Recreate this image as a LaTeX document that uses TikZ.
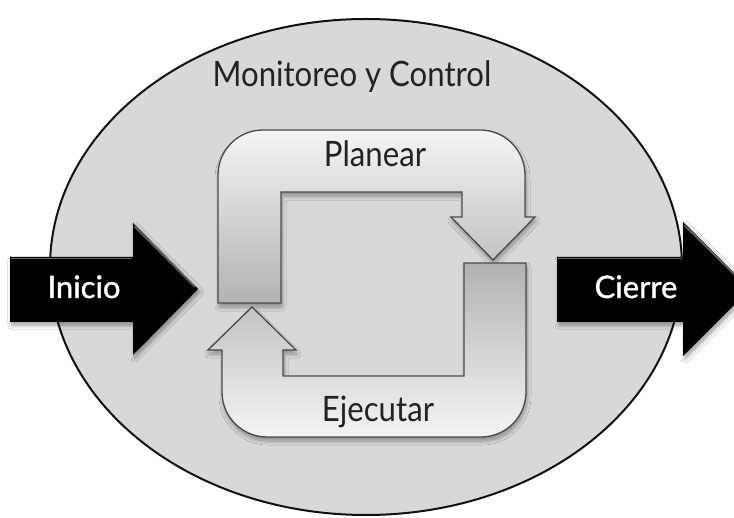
\documentclass[tikz,border=0pt]{standalone}
\usepackage{fontspec}
\setmainfont{Lato}
\newfontfamily\steptextfont[FakeStretch=0.89]{Lato}
\newfontfamily\phasetextfont[FakeBold=1.2]{Lato}
\usetikzlibrary{shadows.blur}

\definecolor{ringfill}{HTML}{D8D8D8}
\definecolor{ringline}{HTML}{111111}
\definecolor{loopline}{HTML}{4A4A4A}
\definecolor{looplight}{HTML}{F4F4F4}
\definecolor{loopdark}{HTML}{B2B2B2}
\definecolor{labeltext}{HTML}{222222}

\tikzset{
  ring/.style={draw=ringline, line width=2pt, fill=ringfill},
  loopshape/.style={draw=loopline, line width=1.3pt, line join=miter,
    blur shadow={shadow xshift=1pt, shadow yshift=-4pt, shadow blur steps=8,
      shadow blur radius=4pt, shadow opacity=35}},
  planshape/.style={loopshape, top color=looplight, bottom color=loopdark},
  execshape/.style={loopshape, top color=loopdark, bottom color=looplight},
  blockarrow/.style={fill=black,
    blur shadow={shadow xshift=2pt, shadow yshift=-3pt, shadow blur steps=8,
      shadow blur radius=4pt, shadow opacity=40}},
  gloss/.style={draw=white!40!black, line width=1.6pt, line cap=butt},
  steplabel/.style={anchor=base, inner sep=0pt, text=labeltext,
    font=\steptextfont\fontsize{35}{40}\selectfont},
  phaselabel/.style={anchor=base, inner sep=0pt, text=white,
    font=\phasetextfont\fontsize{31}{36}\selectfont},
}

\begin{document}
\begin{tikzpicture}[x=1pt, y=-1pt]
  \useasboundingbox (0,0) rectangle (734,518);
  \clip (0,0) rectangle (734,518);
  \fill[white] (0,0) rectangle (734,518);

  % outer process group
  \draw[ring] (366,267) ellipse [x radius=316, y radius=248];
  \node[steplabel] (monitor) at (352,87) {Monitoreo y Control};

  % planning loop arrow (top, bending down to the right)
  \path[planshape]
    (218,303) -- (218,175)
    .. controls (218,150.15) and (238.15,130) .. (263,130)
    -- (480,130)
    .. controls (504.85,130) and (525,150.15) .. (525,175)
    -- (525,217) -- (535,217) -- (493,260) -- (451,217) -- (462,217)
    -- (462,192) -- (281,192) -- (281,303) -- cycle;
  \node[steplabel] (plan) at (375,167) {Planear};

  % execution loop arrow (bottom, bending up to the left)
  \path[execshape]
    (464,263) -- (526,263) -- (526,392)
    .. controls (526,416.85) and (505.85,437) .. (481,437)
    -- (267,437)
    .. controls (242.15,437) and (222,416.85) .. (222,392)
    -- (222,350) -- (208,350) -- (252,307) -- (296,350) -- (283,350)
    -- (283,376) -- (464,376) -- cycle;
  \node[steplabel] (exec) at (378,422) {Ejecutar};

  % entry arrow
  \path[blockarrow]
    (10,257) -- (133,257) -- (133,223) -- (198,289) -- (133,355)
    -- (133,322) -- (10,322) -- cycle;
  \draw[gloss] (11,258.5) -- (132,258.5);
  \draw[gloss] (134.5,226.5) -- (195,287);
  \node[phaselabel] (start) at (84,298) {Inicio};

  % exit arrow
  \path[blockarrow]
    (557,257) -- (683,257) -- (683,222) -- (750,289) -- (683,356)
    -- (683,322) -- (557,322) -- cycle;
  \draw[gloss] (558,258.5) -- (682,258.5);
  \draw[gloss] (684.5,225.5) -- (747,287);
  \node[phaselabel] (finish) at (636,298) {Cierre};
\end{tikzpicture}
\end{document}
